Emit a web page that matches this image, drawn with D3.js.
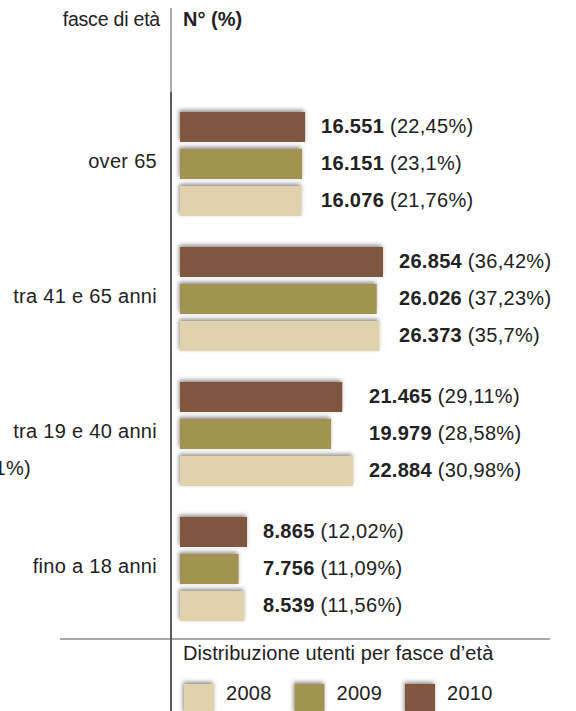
<!DOCTYPE html>
<html>
<head>
<meta charset="utf-8">
<script src="https://cdn.jsdelivr.net/npm/d3@7"></script>
<style>
body { margin:0; background:#fff; }
text { font-family:"Liberation Sans", Arial, sans-serif; fill:#222; }
</style>
</head>
<body>
<script>
// age groups, top to bottom
var categories = ["over 65", "tra 41 e 65 anni", "tra 19 e 40 anni", "fino a 18 anni"];
// years, in the order the bars are stacked inside each group
var years = ["2010", "2009", "2008"];
var legendYears = ["2008", "2009", "2010"];

var values2010 = [16551, 26854, 21465, 8865];
var values2009 = [16151, 26026, 19979, 7756];
var values2008 = [16076, 26373, 22884, 8539];

var pct2010 = ["22,45%", "36,42%", "29,11%", "12,02%"];
var pct2009 = ["23,1%", "37,23%", "28,58%", "11,09%"];
var pct2008 = ["21,76%", "35,7%", "30,98%", "11,56%"];

var colors = {"2008":"#dfd2ad", "2009":"#a19452", "2010":"#7f5740"};

var width = 576, height = 711;
var axisX = 171;
var fs = "20px", ls = "0.3px";

var svg = d3.select("body").append("svg").attr("width", width).attr("height", height);

// soft shadow behind bars
var defs = svg.append("defs");
var f = defs.append("filter").attr("id", "sh").attr("x", "-20%").attr("y", "-40%").attr("width", "140%").attr("height", "180%");
f.append("feDropShadow").attr("dx", -1).attr("dy", -2).attr("stdDeviation", 2.2)
  .attr("flood-color", "#000").attr("flood-opacity", 0.45);

var byYear = {"2010": values2010, "2009": values2009, "2008": values2008};
var pctByYear = {"2010": pct2010, "2009": pct2009, "2008": pct2008};

var rows = [];
categories.forEach(function(c, i){
  years.forEach(function(y){
    rows.push({cat:c, year:y, value:byYear[y][i], pct:pctByYear[y][i]});
  });
});

var x = d3.scaleLinear().domain([0, 26854]).range([180, 383]);
var yGroup = d3.scaleBand().domain(categories).range([112, 652]);
var yInner = d3.scaleBand().domain(years).range([0, 104]).paddingInner(0.19);

var it = d3.formatLocale({decimal:",", thousands:".", grouping:[3], currency:["", ""]});
var fmt = it.format(",d");

// header
svg.append("text").attr("x", 160).attr("y", 26).attr("text-anchor", "end")
  .style("font-size", "19.5px").style("letter-spacing", "-0.2px").text("fasce di età");
svg.append("text").attr("x", 183).attr("y", 26)
  .style("font-size", fs).style("font-weight", "bold").text("N° (%)");

// vertical axis line
svg.append("line").attr("x1", axisX).attr("x2", axisX).attr("y1", 8).attr("y2", 92)
  .attr("stroke", "#999").attr("stroke-width", 1.6);
svg.append("line").attr("x1", axisX).attr("x2", axisX).attr("y1", 92).attr("y2", height)
  .attr("stroke", "#333").attr("stroke-width", 1.6);

// bars
svg.append("g").selectAll("rect").data(rows).enter().append("rect")
  .attr("x", x(0))
  .attr("y", function(d){ return yGroup(d.cat) + yInner(d.year); })
  .attr("width", function(d){ return x(d.value) - x(0); })
  .attr("height", yInner.bandwidth())
  .attr("fill", function(d){ return colors[d.year]; })
  .attr("filter", "url(#sh)");

// value labels
var labels = svg.append("g").selectAll("text").data(rows).enter().append("text")
  .attr("x", function(d){
    var i = categories.indexOf(d.cat);
    var mx = d3.max(years, function(y){ return byYear[y][i]; });
    return x(mx) + 16;
  })
  .attr("y", function(d){ return yGroup(d.cat) + yInner(d.year) + yInner.bandwidth()/2 - 1; })
  .attr("dy", "0.36em")
  .style("font-size", fs).style("letter-spacing", ls);
labels.append("tspan").style("font-weight", "bold").text(function(d){ return fmt(d.value); });
labels.append("tspan").text(function(d){ return " (" + d.pct + ")"; });

// category labels
svg.append("g").selectAll("text").data(categories).enter().append("text")
  .attr("x", 157)
  .attr("y", function(d){ return yGroup(d) + 49; })
  .attr("dy", "0.36em")
  .attr("text-anchor", "end")
  .style("font-size", fs).style("letter-spacing", ls)
  .text(function(d){ return d; });

// clipped fragment at the left edge
svg.append("text").attr("x", 31).attr("y", 468).attr("dy", "0.36em").attr("text-anchor", "end")
  .style("font-size", fs).style("letter-spacing", ls).text("(30,91%)");

// bottom rule
svg.append("line").attr("x1", 60).attr("x2", 550).attr("y1", 639).attr("y2", 639)
  .attr("stroke", "#555").attr("stroke-width", 1.2);

// legend
svg.append("text").attr("x", 183).attr("y", 653).attr("dy", "0.36em")
  .style("font-size", fs).style("letter-spacing", "0.1px")
  .text("Distribuzione utenti per fasce d’età");

var legendX = d3.scalePoint().domain(legendYears).range([184, 405]);
var lg = svg.append("g").selectAll("g").data(legendYears).enter().append("g")
  .attr("transform", function(d){ return "translate(" + legendX(d) + ",684)"; });
lg.append("rect").attr("width", 30).attr("height", 30)
  .attr("fill", function(d){ return colors[d]; }).attr("filter", "url(#sh)");
lg.append("text").attr("x", 42).attr("y", 9).attr("dy", "0.36em")
  .style("font-size", fs).style("letter-spacing", ls).text(function(d){ return d; });
</script>
</body>
</html>
